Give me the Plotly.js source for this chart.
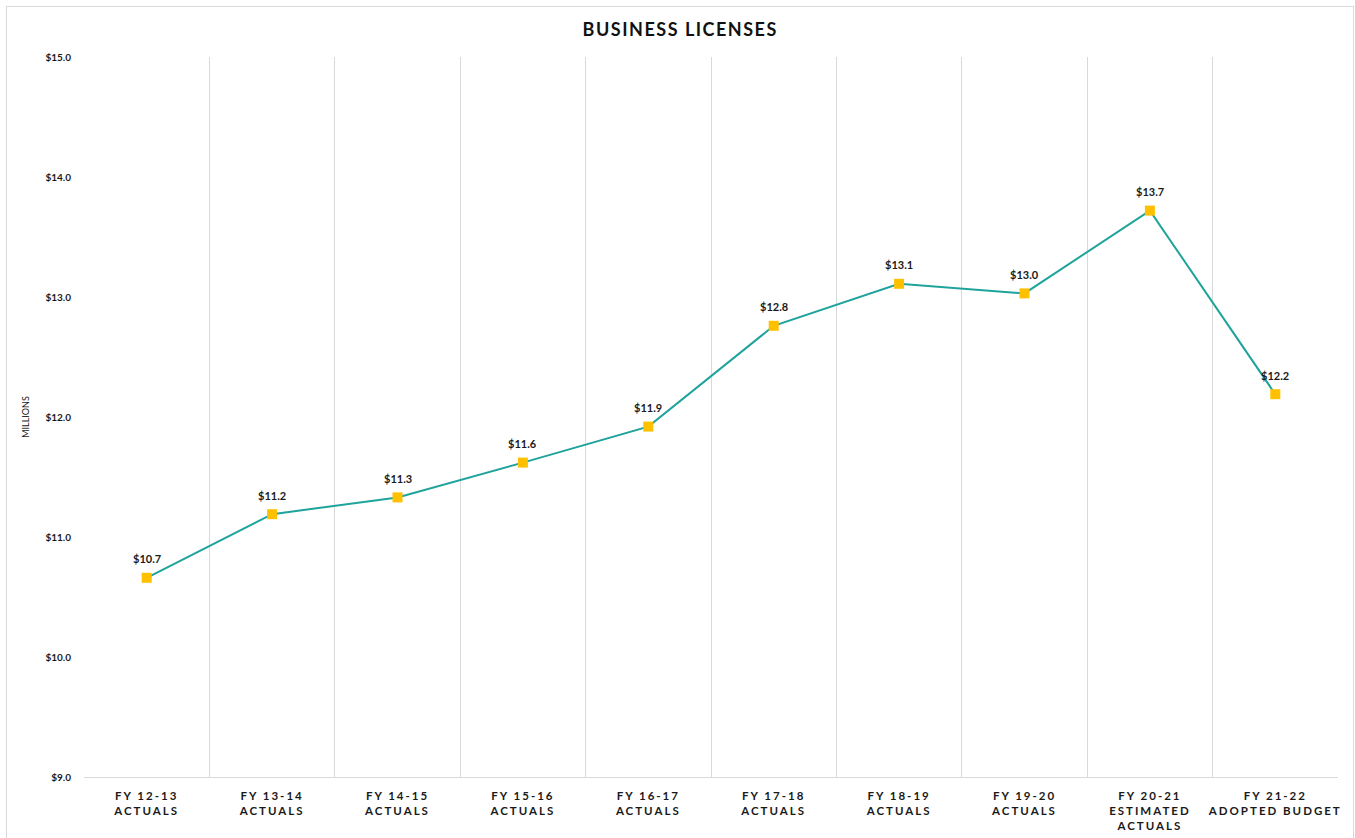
<!DOCTYPE html>
<html>
<head>
<meta charset="utf-8">
<script src="https://cdn.plot.ly/plotly-3.0.1.min.js"></script>
<style>
  html, body { margin: 0; padding: 0; background: #fff; }
  #wrap { position: relative; width: 1355px; height: 838px; }
  #chart { width: 1355px; height: 838px; }
  #frame { position: absolute; left: 6px; top: 6px; width: 1346px; height: 840px; border: 1px solid #d9d9d9; pointer-events: none; }
  .xtick text { letter-spacing: 2px; }
  .gtitle { letter-spacing: 1.5px; }
</style>
</head>
<body>
<div id="wrap">
  <div id="chart"></div>
  <div id="frame"></div>
</div>
<script>
const categories = [
  "FY 12-13<br>ACTUALS",
  "FY 13-14<br>ACTUALS",
  "FY 14-15<br>ACTUALS",
  "FY 15-16<br>ACTUALS",
  "FY 16-17<br>ACTUALS",
  "FY 17-18<br>ACTUALS",
  "FY 18-19<br>ACTUALS",
  "FY 19-20<br>ACTUALS",
  "FY 20-21<br>ESTIMATED<br>ACTUALS",
  "FY 21-22<br>ADOPTED BUDGET"
];
const values = [10.66, 11.19, 11.33, 11.62, 11.92, 12.76, 13.11, 13.03, 13.72, 12.19];
const valueLabels = values.map(v => "$" + v.toFixed(1));

const FONT = "Lato, 'Open Sans', sans-serif";

const trace = {
  type: "scatter",
  mode: "lines+markers",
  x: categories,
  y: values,
  line: { color: "#1fa39c", width: 2 },
  marker: { symbol: "square", size: 10, color: "#ffc000" },
  cliponaxis: false,
  hoverinfo: "x+y"
};

const annotations = categories.map((c, i) => ({
  x: c,
  y: values[i],
  xref: "x",
  yref: "y",
  text: valueLabels[i],
  showarrow: false,
  yshift: 19,
  font: { family: FONT, size: 11, color: "#1a1a1a", weight: "bold" }
}));

const layout = {
  width: 1355,
  height: 838,
  margin: { l: 84, r: 17, t: 57, b: 61 },
  paper_bgcolor: "#ffffff",
  plot_bgcolor: "#ffffff",
  showlegend: false,
  annotations: annotations,
  title: {
    text: "BUSINESS LICENSES",
    font: { family: FONT, size: 18, color: "#111", weight: "bold" },
    x: 0.502, xanchor: "center",
    y: 0.965, yanchor: "middle"
  },
  xaxis: {
    type: "category",
    range: [-0.5, categories.length - 0.5],
    automargin: false,
    tickson: "boundaries",
    showgrid: true,
    gridcolor: "#d9d9d9",
    gridwidth: 1,
    showline: true,
    linecolor: "#d9d9d9",
    linewidth: 1,
    ticks: "",
    ticklabelstandoff: 8,
    zeroline: false,
    tickfont: { family: FONT, size: 11.5, color: "#1a1a1a", weight: "bold" },
    fixedrange: true
  },
  yaxis: {
    automargin: false,
    range: [9, 15],
    dtick: 1,
    tick0: 9,
    tickformat: "$.1f",
    showgrid: false,
    zeroline: false,
    showline: false,
    ticks: "",
    ticklabelstandoff: 12,
    tickfont: { family: FONT, size: 10, color: "#1a1a1a", weight: "bold" },
    title: {
      text: "MILLIONS",
      font: { family: FONT, size: 9, color: "#1a1a1a" },
      standoff: 14
    },
    fixedrange: true
  }
};

Plotly.newPlot("chart", [trace], layout, { displayModeBar: false });
</script>
</body>
</html>
